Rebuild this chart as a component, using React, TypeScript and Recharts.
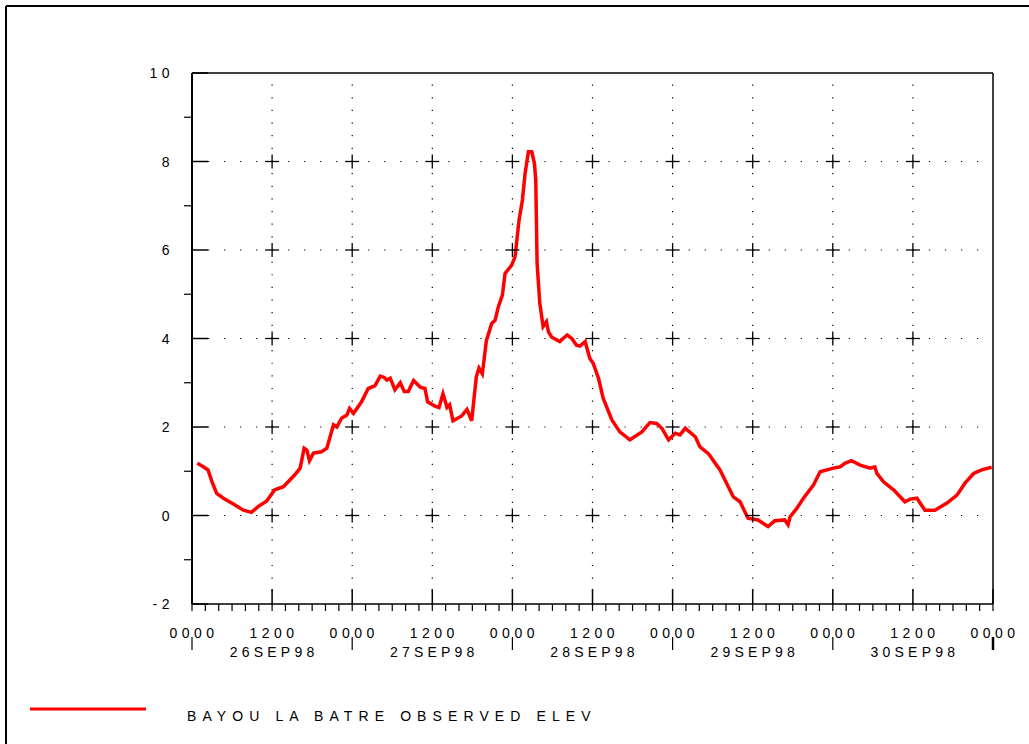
import { LineChart, Line, XAxis, YAxis, ReferenceLine, ReferenceDot } from "recharts";

// observed water elevation, hours since 0000 26SEP98
const HOURS = [
  0.8, 1.7, 2.4, 3.0, 3.7, 4.7, 6.2, 7.7, 8.9, 9.9, 11.2, 12.4, 13.7, 15.4, 16.2, 16.8, 17.2, 17.6, 18.2, 19.4,
  20.2, 21.2, 21.7, 22.4, 23.2, 23.6, 24.2, 25.4, 26.4, 27.4, 28.2, 28.8, 29.2, 29.7, 30.4, 31.2, 31.8, 32.4, 33.2, 34.2,
  34.9, 35.3, 36.4, 37.0, 37.6, 38.2, 38.6, 39.1, 40.4, 41.2, 41.9, 42.6, 43.0, 43.5, 44.1, 44.9, 45.4, 45.9, 46.5, 46.9,
  47.9, 48.4, 49.0, 49.5, 49.9, 50.4, 50.9, 51.3, 51.5, 51.7, 52.1, 52.6, 53.1, 53.4, 53.9, 55.1, 55.6, 56.2, 56.9, 57.6,
  58.1, 58.9, 59.6, 60.1, 60.9, 61.6, 62.9, 64.1, 65.6, 67.4, 68.6, 69.6, 70.4, 71.4, 72.4, 73.1, 73.9, 75.4, 76.1, 77.4,
  79.1, 81.1, 82.1, 83.3, 84.8, 86.3, 87.3, 88.8, 89.3, 89.6, 90.6, 91.6, 93.1, 94.1, 96.1, 97.1, 97.8, 98.8, 100.1, 101.6,
  102.3, 102.6, 103.6, 105.1, 106.8, 107.6, 108.6, 109.8, 111.3, 113.1, 114.6, 115.8, 117.1, 118.3, 119.8,
];
const ELEV = [
  1.18, 1.1, 1.03, 0.76, 0.5, 0.39, 0.26, 0.12, 0.07, 0.2, 0.33, 0.58, 0.65, 0.92, 1.07, 1.52, 1.48, 1.24, 1.41, 1.44,
  1.52, 2.05, 2.0, 2.2, 2.27, 2.42, 2.31, 2.57, 2.87, 2.93, 3.15, 3.12, 3.06, 3.1, 2.84, 3.0, 2.8, 2.8, 3.05, 2.9,
  2.87, 2.57, 2.47, 2.44, 2.75, 2.44, 2.5, 2.14, 2.25, 2.4, 2.14, 3.14, 3.33, 3.2, 3.95, 4.34, 4.41, 4.72, 4.98, 5.47,
  5.66, 5.85, 6.68, 7.13, 7.73, 8.22, 8.22, 7.96, 7.58, 5.7, 4.8, 4.27, 4.38, 4.15, 4.03, 3.93, 4.0, 4.08, 4.0, 3.85,
  3.83, 3.93, 3.55, 3.44, 3.1, 2.65, 2.16, 1.89, 1.71, 1.89, 2.1, 2.08, 1.97, 1.71, 1.86, 1.82, 1.97, 1.78, 1.55, 1.39,
  1.03, 0.42, 0.31, -0.06, -0.1, -0.25, -0.12, -0.1, -0.21, -0.03, 0.16, 0.39, 0.69, 0.99, 1.07, 1.1, 1.18, 1.24, 1.14, 1.07,
  1.1, 0.95, 0.76, 0.58, 0.31, 0.37, 0.39, 0.12, 0.12, 0.28, 0.46, 0.73, 0.95, 1.03, 1.09,
];

const TIME_TICKS = [0, 12, 24, 36, 48, 60, 72, 84, 96, 108, 120];
const TIME_LABELS = ["0000", "1200", "0000", "1200", "0000", "1200", "0000", "1200", "0000", "1200", "0000"];
const DATE_TICKS = [12, 36, 60, 84, 108];
const DATE_LABELS = ["26SEP98", "27SEP98", "28SEP98", "29SEP98", "30SEP98"];
const Y_TICKS = [-2, -1, 0, 1, 2, 3, 4, 5, 6, 7, 8, 9, 10];
const GRID_Y = [0, 2, 4, 6, 8];
const GRID_X = [12, 24, 36, 48, 60, 72, 84, 96, 108];
const SERIES_NAME = "BAYOU LA BATRE OBSERVED ELEV";

const MINOR_X = Array.from({ length: 61 }, (_, i) => i * 2);
const data = HOURS.map((h, i) => ({ h, elev: ELEV[i] }));

const FONT = "'Liberation Sans', Arial, sans-serif";
const PLOT_LEFT = 192;
const PLOT_BOTTOM = 604;

function YTick(props: any) {
  const { y, payload } = props;
  const v = payload.value;
  if (v % 2 !== 0) {
    return <line x1={PLOT_LEFT - 8} x2={PLOT_LEFT} y1={y} y2={y} stroke="#000" strokeWidth={1.2} />;
  }
  return (
    <g>
      <line x1={PLOT_LEFT} x2={PLOT_LEFT + 16} y1={y} y2={y} stroke="#000" strokeWidth={1.5} />
      <text x={174} y={y + 5} textAnchor="end" fontSize={14} letterSpacing={4.5} fontFamily={FONT} fill="#000">
        {v}
      </text>
    </g>
  );
}

function XTick(props: any) {
  const { x, payload } = props;
  const h = payload.value;
  const ti = TIME_TICKS.indexOf(h);
  const di = DATE_TICKS.indexOf(h);
  return (
    <g>
      <line x1={x} x2={x} y1={PLOT_BOTTOM} y2={PLOT_BOTTOM + 7} stroke="#000" strokeWidth={1.2} />
      {ti >= 0 && <line x1={x} x2={x} y1={PLOT_BOTTOM - 15} y2={PLOT_BOTTOM} stroke="#000" strokeWidth={1.5} />}
      {ti >= 0 && (
        <text x={x + 2} y={638} textAnchor="middle" fontSize={14} letterSpacing={4.5} fontFamily={FONT} fill="#000">
          {TIME_LABELS[ti]}
        </text>
      )}
      {h % 24 === 0 && (
        <line x1={x} x2={x} y1={637} y2={650} stroke="#000" strokeWidth={h === 120 ? 2.5 : 1.2} />
      )}
      {di >= 0 && (
        <text x={x + 2} y={657} textAnchor="middle" fontSize={14} letterSpacing={4.2} fontFamily={FONT} fill="#000">
          {DATE_LABELS[di]}
        </text>
      )}
    </g>
  );
}

const Cross = (props: any) => {
  const { cx, cy } = props;
  return (
    <g>
      <line x1={cx - 7} x2={cx + 7} y1={cy} y2={cy} stroke="#000" strokeWidth={1.3} />
      <line x1={cx} x2={cx} y1={cy - 7} y2={cy + 7} stroke="#000" strokeWidth={1.3} />
    </g>
  );
};

export default function App() {
  return (
    <div style={{ position: "absolute", left: 0, top: 0, width: 1029, height: 744, background: "#fff" }}>
      <LineChart
        width={1029}
        height={744}
        data={data}
        margin={{ top: 73, right: 36, bottom: 80, left: 132 }}
      >
        <XAxis
          dataKey="h"
          type="number"
          domain={[0, 120]}
          ticks={MINOR_X}
          interval={0}
          tick={<XTick />}
          tickLine={false}
          height={60}
          axisLine={{ stroke: "#000", strokeWidth: 1.5 }}
        />
        <YAxis
          type="number"
          domain={[-2, 10]}
          ticks={Y_TICKS}
          interval={0}
          tick={<YTick />}
          tickLine={false}
          width={60}
          axisLine={{ stroke: "#000", strokeWidth: 2 }}
        />
        {GRID_Y.map((v) => (
          <ReferenceLine key={"gy" + v} y={v} stroke="#000" strokeWidth={1.2} strokeDasharray="1.2 14.82" />
        ))}
        {GRID_X.map((v) => (
          <ReferenceLine key={"gx" + v} x={v} stroke="#000" strokeWidth={1.2} strokeDasharray="1.2 11.44" />
        ))}
        <ReferenceLine y={10} stroke="#000" strokeWidth={1.5} />
        <ReferenceLine x={120} stroke="#000" strokeWidth={1.5} />
        {GRID_X.map((gx) =>
          GRID_Y.map((gy) => (
            <ReferenceDot key={`c${gx}-${gy}`} x={gx} y={gy} r={7} shape={Cross} />
          ))
        )}
        <Line
          type="linear"
          dataKey="elev"
          name={SERIES_NAME}
          stroke="#ff0000"
          strokeWidth={3.5}
          dot={false}
          isAnimationActive={false}
        />
      </LineChart>
      <svg
        width={1029}
        height={744}
        style={{ position: "absolute", left: 0, top: 0, pointerEvents: "none" }}
      >
        <line x1={6} x2={1029} y1={6} y2={6} stroke="#000" strokeWidth={2} />
        <line x1={6} x2={6} y1={6} y2={744} stroke="#000" strokeWidth={2} />
        <line x1={30} x2={146} y1={709} y2={709} stroke="#ff0000" strokeWidth={3} />
        <text x={187} y={721} fontSize={14} letterSpacing={6.1} fontFamily={FONT} fill="#000">
          {SERIES_NAME}
        </text>
      </svg>
    </div>
  );
}
